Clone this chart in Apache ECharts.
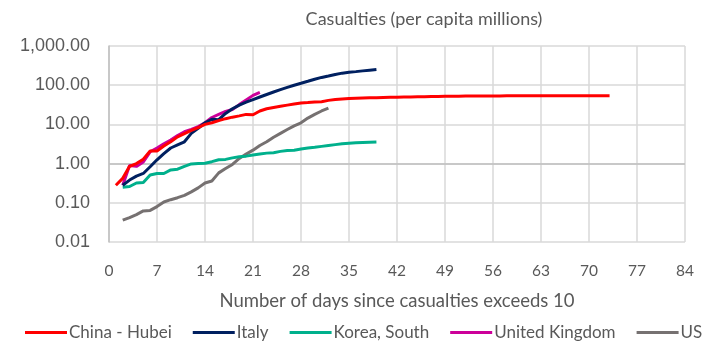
<!DOCTYPE html>
<html>
<head>
<meta charset="utf-8">
<script src="https://cdn.jsdelivr.net/npm/echarts@6/dist/echarts.min.js"></script>
<style>
  html, body { margin: 0; padding: 0; background: #fff; }
  #chart { width: 709px; height: 354px; }
</style>
</head>
<body>
<div id="chart"></div>
<script>
// values, one value per day
var seriesNames = ['China - Hubei', 'Italy', 'Korea, South', 'United Kingdom', 'US'];
var seriesColors = ['#FF0000', '#002060', '#00B08C', '#CC0099', '#767171'];

var hubeiStart = 1;
var hubei = [0.28, 0.42, 0.85, 1.0, 1.3, 2.1, 2.1, 2.8, 3.6, 4.8,
    5.8, 7.0, 8.3, 10.0, 11.0, 12.5, 14.0, 15.3, 16.5, 18.0,
    17.6, 22, 25, 27, 29, 31, 33, 35, 36, 37.5,
    38, 41, 43, 44.5, 46, 46.5, 47, 47.5, 48, 48.5,
    49, 49.3, 49.8, 50.2, 50.6, 51, 51.4, 51.7, 52, 52.3,
    52.5, 52.7, 52.9, 53.1, 53.2, 53.3, 53.4, 53.5, 53.6, 53.6,
    53.7, 53.7, 53.8, 53.8, 53.9, 53.9, 54, 54, 54, 54.1,
    54.1, 54.1, 54.2];

var italyStart = 2;
var italy = [0.28, 0.38, 0.48, 0.56, 0.83, 1.25, 1.8, 2.5, 3.0, 3.6,
    5.9, 8.0, 11, 13.5, 13.2, 19, 25, 31, 37, 43,
    50, 58, 67, 77, 88, 100, 112, 126, 142, 158,
    172, 188, 203, 213, 222, 232, 242, 252];

var koreaStart = 2;
var korea = [0.25, 0.26, 0.32, 0.33, 0.51, 0.56, 0.56, 0.69, 0.72, 0.85,
    0.98, 1.0, 1.02, 1.12, 1.25, 1.28, 1.4, 1.5, 1.55, 1.65,
    1.75, 1.85, 1.9, 2.05, 2.15, 2.2, 2.35, 2.5, 2.6, 2.75,
    2.9, 3.05, 3.2, 3.3, 3.4, 3.45, 3.5, 3.55];

var ukStart = 2;
var uk = [0.28, 0.9, 0.85, 1.1, 2.0, 2.5, 3.2, 4.0, 5.2, 6.5,
    7.5, 8.8, 11, 15, 18, 21.5, 24, 32, 42, 55, 66];

var usStart = 2;
var us = [0.036, 0.042, 0.05, 0.062, 0.064, 0.08, 0.105, 0.12, 0.135, 0.155,
    0.19, 0.24, 0.32, 0.36, 0.58, 0.75, 0.95, 1.35, 1.75, 2.2,
    2.9, 3.6, 4.7, 5.9, 7.4, 9.2, 11, 14.5, 18, 22, 26];

var starts = [hubeiStart, italyStart, koreaStart, ukStart, usStart];
var values = [hubei, italy, korea, uk, us];

var myChart = echarts.init(document.getElementById('chart'));

function toPairs(start, arr) {
    var out = [];
    for (var i = 0; i < arr.length; i++) {
        out.push([start + i, arr[i]]);
    }
    return out;
}

var series = [];
for (var s = 0; s < seriesNames.length; s++) {
    series.push({
        name: seriesNames[s],
        type: 'line',
        data: toPairs(starts[s], values[s]),
        showSymbol: false,
        symbol: 'none',
        lineStyle: { width: 3, color: seriesColors[s] },
        itemStyle: { color: seriesColors[s] },
        z: 10 - s
    });
}
// darker horizontal axis at 1.00
series[0].markLine = {
    silent: true,
    symbol: 'none',
    label: { show: false },
    lineStyle: { color: '#BFBFBF', width: 1.5, type: 'solid' },
    data: [{ yAxis: 1 }],
    z: 1
};

var textColor = '#595959';
var font = 'Lato, "Liberation Sans", sans-serif';

var option = {
    animation: false,
    title: {
        text: 'Casualties (per capita millions)',
        left: 419,
        textAlign: 'center',
        top: 5,
        textStyle: { color: textColor, fontSize: 18, fontWeight: 'normal', fontFamily: font }
    },
    legend: {
        bottom: 8,
        left: 20,
        itemGap: 21,
        itemWidth: 42,
        itemHeight: 3,
        icon: 'rect',
        textStyle: { color: textColor, fontSize: 17, fontFamily: font, padding: [0, 0, 0, -3] },
        data: seriesNames
    },
    grid: { left: 109, right: 24, top: 46, bottom: 112 },
    xAxis: {
        type: 'value',
        min: 0,
        max: 84,
        interval: 7,
        name: 'Number of days since casualties exceeds 10',
        nameLocation: 'middle',
        nameGap: 50,
        nameTextStyle: { color: textColor, fontSize: 18.5, fontFamily: font },
        axisLine: { show: false },
        axisTick: { show: false },
        axisLabel: { color: textColor, fontSize: 15.5, fontFamily: font, margin: 21 },
        splitLine: { show: true, lineStyle: { color: '#D9D9D9', width: 1.5 } }
    },
    yAxis: {
        type: 'log',
        logBase: 10,
        min: 0.01,
        max: 1000,
        axisLine: { show: true, lineStyle: { color: '#BFBFBF', width: 1.5 } },
        axisTick: { show: false },
        axisLabel: {
            color: textColor, fontSize: 18, fontFamily: '"Liberation Sans", sans-serif', margin: 19,
            formatter: function (v) {
                return Number(v).toLocaleString('en-US', { minimumFractionDigits: 2, maximumFractionDigits: 2 });
            }
        },
        splitLine: { show: true, lineStyle: { color: '#D9D9D9', width: 1.5 } }
    },
    series: series
};
myChart.setOption(option);
</script>
</body>
</html>
